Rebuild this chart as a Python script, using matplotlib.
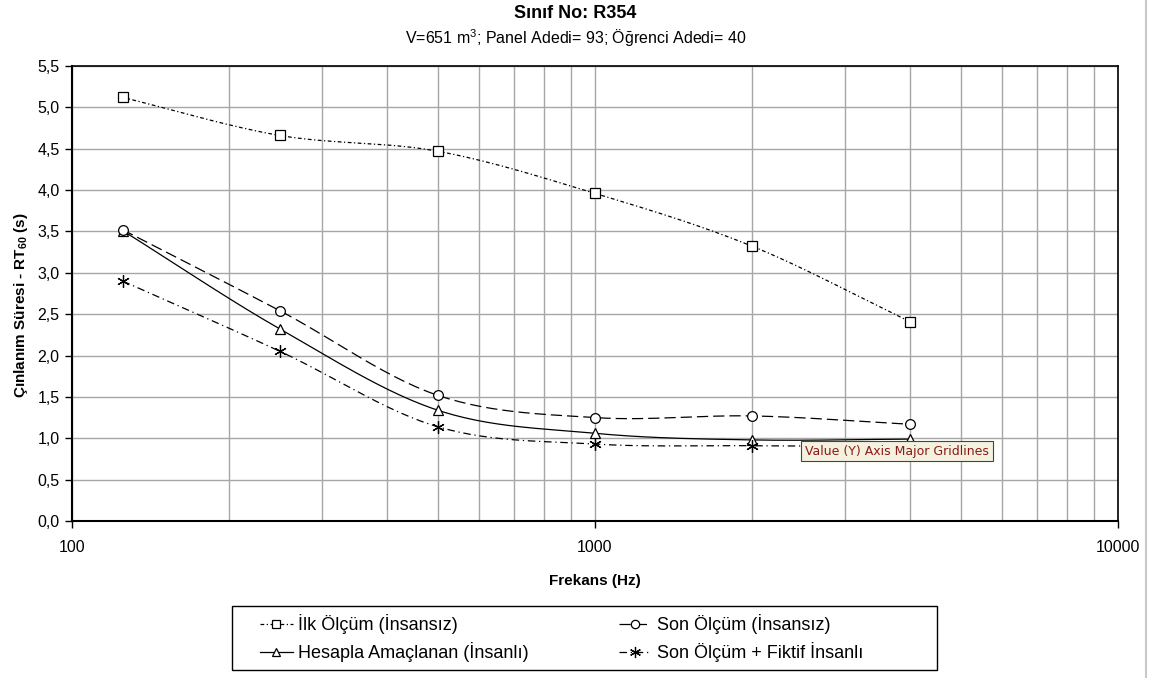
import numpy as np
import matplotlib
matplotlib.use("Agg")
import matplotlib.pyplot as plt
from matplotlib.ticker import FixedLocator, FuncFormatter, NullFormatter
from matplotlib.lines import Line2D
from matplotlib.patches import Rectangle

plt.rcParams['font.family'] = ['Liberation Sans', 'DejaVu Sans']
plt.rcParams['mathtext.fontset'] = 'custom'
plt.rcParams['mathtext.rm'] = 'Liberation Sans'
plt.rcParams['mathtext.bf'] = 'Liberation Sans:bold'

# veriler
frekans = [125, 250, 500, 1000, 2000, 4000]
ilk_olcum = [5.12, 4.66, 4.47, 3.96, 3.32, 2.41]
son_olcum = [3.52, 2.54, 1.52, 1.25, 1.27, 1.17]
hesapla = [3.51, 2.32, 1.34, 1.06, 0.98, 0.99]
fiktif = [2.90, 2.05, 1.14, 0.93, 0.91, 0.90]

seriler = [
    ("İlk Ölçüm (İnsansız)", ilk_olcum, 's', (0, (3, 2, 1, 2))),
    ("Hesapla Amaçlanan (İnsanlı)", hesapla, '^', '-'),
    ("Son Ölçüm (İnsansız)", son_olcum, 'o', (0, (9, 4))),
    ("Son Ölçüm + Fiktif İnsanlı", fiktif, (6, 2, 0), (0, (6, 3, 1, 3))),
]


def yumusat(x, y, n=30):
    # Excel benzeri yumuşatılmış çizgi (Catmull-Rom, log-x uzayında)
    lx = np.log10(x)
    y = np.asarray(y, dtype=float)
    px = np.concatenate([[2 * lx[0] - lx[1]], lx, [2 * lx[-1] - lx[-2]]])
    py = np.concatenate([[2 * y[0] - y[1]], y, [2 * y[-1] - y[-2]]])
    ox, oy = [], []
    t = np.linspace(0, 1, n)
    for i in range(1, len(px) - 2):
        for arr, out in ((px, ox), (py, oy)):
            p0, p1, p2, p3 = arr[i - 1], arr[i], arr[i + 1], arr[i + 2]
            out.extend(0.5 * ((2 * p1) + (-p0 + p2) * t
                              + (2 * p0 - 5 * p1 + 4 * p2 - p3) * t ** 2
                              + (-p0 + 3 * p1 - 3 * p2 + p3) * t ** 3))
    return 10 ** np.array(ox), np.array(oy)


W, H = 1151, 678
fig = plt.figure(figsize=(W / 100, H / 100), dpi=100)
ax = fig.add_axes([72 / W, 1 - 521 / H, (1118 - 72) / W, (521 - 66) / H])

handles = []
for ad, deger, mk, ls in seriler:
    ms = 9 if mk == (6, 2, 0) else 7
    sx, sy = yumusat(frekans, deger)
    ax.plot(sx, sy, color='black', lw=0.9, ls=ls, zorder=3)
    ax.plot(frekans, deger, ls='none', marker=mk, ms=ms, mfc='white',
            mec='black', mew=0.9, zorder=4)
    handles.append(Line2D([], [], color='black', lw=0.9, ls=ls, marker=mk,
                          ms=ms - 1, mfc='white', mec='black', mew=0.9, label=ad))

ax.set_xscale('log')
ax.set_xlim(100, 10000)
ax.set_ylim(0, 5.5)
ax.yaxis.set_major_locator(FixedLocator(np.arange(0, 5.51, 0.5)))
ax.yaxis.set_major_formatter(FuncFormatter(lambda v, p: ('%.1f' % v).replace('.', ',')))
ax.xaxis.set_major_formatter(FuncFormatter(lambda v, p: '%d' % v))
ax.xaxis.set_minor_formatter(NullFormatter())
ax.grid(True, which='both', color='#a6a6a6', lw=1.0)
ax.set_axisbelow(True)
ax.tick_params(axis='both', which='major', labelsize=11.5, length=5, width=1, color='black')
ax.tick_params(axis='x', which='minor', length=0)
ax.tick_params(axis='x', pad=9)
ax.tick_params(axis='y', pad=4)
for k in ['top', 'right']:
    ax.spines[k].set_color('black')
    ax.spines[k].set_linewidth(1.2)
for k in ['left', 'bottom']:
    ax.spines[k].set_linewidth(1.5)

ax.set_xlabel('Frekans (Hz)', fontsize=11, fontweight='bold', labelpad=13)
ax.set_ylabel('Çınlanım Süresi - RT$_{\\mathbf{60}}$ (s)', fontsize=11,
              fontweight='bold')
ax.yaxis.set_label_coords(-0.04, 0.475)

fig.text(0.5, 1 - 14 / H, 'Sınıf No: R354', ha='center', va='center',
         fontsize=13, fontweight='bold')
fig.text(0.5, 1 - 38 / H, 'V=651 m$^3$; Panel Adedi= 93; Öğrenci Adedi= 40',
         ha='center', va='center', fontsize=11.5)

# gösterge çerçevesi
fig.add_artist(Rectangle((232 / W, 1 - 670 / H), 705 / W, 64 / H,
                         transform=fig.transFigure, fill=False,
                         ec='black', lw=1.0))
leg = fig.legend(handles=handles, ncol=2, loc='center left',
                 bbox_to_anchor=(260 / W, 1 - 638 / H),
                 fontsize=13, frameon=False, handlelength=1.8,
                 handletextpad=0.3, columnspacing=5.0, borderpad=0,
                 borderaxespad=0, labelspacing=0.45)

# sağdaki grafik alanı kenarı
fig.add_artist(Line2D([1146 / W, 1146 / W], [0, 1], color='#c8c8c8', lw=1.5))

# ekran görüntüsündeki ipucu kutusu
fig.text(805 / W, 1 - 451 / H, 'Value (Y) Axis Major Gridlines',
         ha='left', va='center', fontsize=9, color='#8b1a1a',
         family='DejaVu Sans', zorder=10,
         bbox=dict(boxstyle='square,pad=0.3', fc='#f4f1de', ec='#444444', lw=0.8))

fig.savefig('out.png', dpi=100)
